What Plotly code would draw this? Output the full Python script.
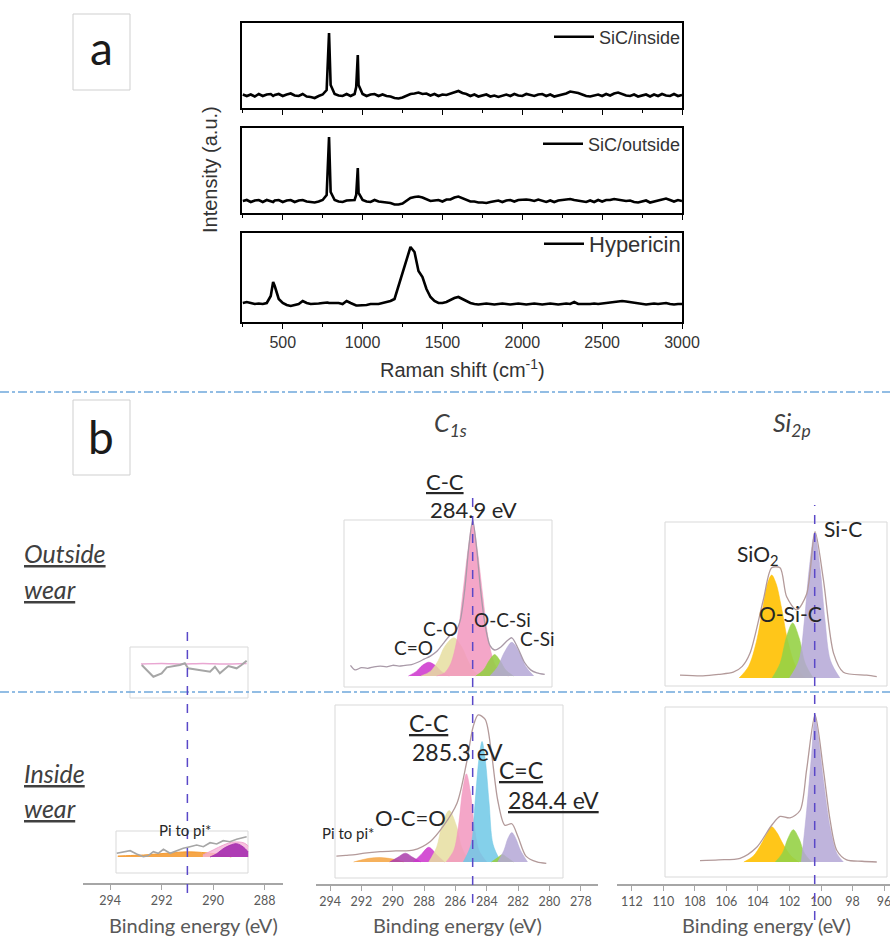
import plotly.graph_objects as go

W, H = 890, 941
def fx(px): return px / W
def fy(py): return 1 - py / H

# ---------------- (a) Raman data ----------------
raman_shift = [250,275,300,325,350,375,400,425,440,450,
               475,500,525,550,575,600,625,650,675,700,
               725,750,775,780,790,800,825,850,875,900,
               925,950,960,970,975,1000,1025,1050,1075,1100,
               1125,1150,1175,1200,1225,1250,1275,1300,1325,1350,
               1375,1400,1425,1450,1475,1500,1525,1550,1575,1600,
               1625,1650,1675,1700,1725,1750,1775,1800,1825,1850,
               1875,1900,1925,1950,1975,2000,2025,2050,2075,2100,
               2125,2150,2175,2200,2225,2250,2275,2300,2325,2350,
               2375,2400,2425,2450,2475,2500,2525,2550,2575,2600,
               2625,2650,2675,2700,2725,2750,2775,2800,2825,2850,
               2875,2900,2925,2950,2975,3000]
sic_inside = [0.5,-1,0.5,-1.5,1,-1,0.5,1,-1,0,
              1,-1,0.5,1.5,-0.5,-1,1,-1.5,-2,-3,
              -1,0.5,5,22,62,10,1,-0.5,-1,1,
              -1,1,8,40,10,1,-1,0.5,1,-1,
              0.5,-1,-1.5,-3,-3.5,-2.5,-1,1,1.5,2.5,
              1,1.5,-0.5,1,-1,0.5,0,1.5,2.5,4,
              2,1,-1,0.5,-1.5,-0.5,0.5,-1.5,-0.5,-2,
              -1,0.5,-1,1,-0.5,-1,1,0,-1,0.5,
              1,-1,0.5,-1.5,-0.5,0.5,1.5,3.5,3,2,
              0.5,-1,-1.5,-0.5,0.5,-1,1,-0.5,1.5,2.5,
              1,-0.5,-1,0.5,-1.5,-0.5,0.5,-1.5,0.5,-1,
              1,-0.5,-1,1,-1,0]
sic_outside = [0,1,-1,0.5,1,-1,1,-0.5,-1,0.5,
               1,-1,0.5,1,-1,0.5,1,-0.5,-1,-1.5,
               -0.5,1,6,24,64,9,1,-0.5,-1,0.5,
               1,1,6,33,8,1,-0.5,-1,1,-0.5,
               -1,-1.5,-2,-3.5,-3.5,-2.5,0,3,4,4.5,
               3.5,1.5,0,0.5,1,-0.5,1.5,1.5,3.5,4.5,
               3,1,-0.5,-0.5,-1.5,-1.5,-2,-1,-0.5,0.5,
               -1,0.5,1,-0.5,1,1.5,1.5,1,0,1.5,
               0,-1,0.5,-1,0.5,1,1,2,1,0.5,
               -0.5,-1,0.5,-1,1,-0.5,1,1,2,1.5,
               1,0,0.5,-1,-1.5,-0.5,0.5,-1.5,-0.5,0.5,
               1,2.5,1,-0.5,1,0]
hypericin = [1,2,1,0,0.5,0,1,8,22,18,
             5,1,-1,-2,-1,0,3,1,0,0,
             0.5,1,1.5,1.5,1,1,0.5,1,0,3,
             1,-1,-1.5,-1.5,-1.5,-1,-1,0,0,0,
             1,2,3,5,18,29,42,57,52,33,
             27,15,7,3,1,1,2,4,6,7,
             5,3,1,0,-0.5,0,0.5,0,-0.5,0,
             0.5,0,-0.5,0,0.5,0,-0.5,0,0.5,0,
             -0.5,0,0.5,0,-0.5,0,0.5,0,2,0,
             0,-0.5,0,0.5,0,0.5,1,1.5,2,2.5,
             3,2.5,2,1,0.5,0,-0.5,0,0.5,0,
             0.5,1,0,-0.5,0,0]
raman_names = ["SiC/inside", "SiC/outside", "Hypericin"]
raman_ticks = [500, 1000, 1500, 2000, 2500, 3000]

# ---------------- (b) XPS data (binding energy eV, intensity) ----------------
# left column: Pi to pi* region
pi_out_raw_x = [292.77,292.52,292.32,292.0,291.8,291.29,291.1,290.97,290.51,290.12,289.93,289.74,289.41,289.09,288.9,288.7]
pi_out_raw_y = [-1,-7.7,-12.7,-9.3,-3.3,-1,0.7,-4.3,-6,-7.7,-2.7,-9.3,-2,-4.3,-1,3.3]
pi_out_fit_x = [292.8,292.0,291.2,290.4,289.6,288.7]
pi_out_fit_y = [0,0.5,0,0.5,0,0.5]

pi_in_raw_x = [293.74,293.48,293.22,292.97,292.71,292.52,292.32,292.13,291.93,291.67,291.41,291.16,290.9,290.64,290.38,290.12,289.86,289.61,289.35,289.09,288.7]
pi_in_raw_y = [3.7,5.3,6.3,3,0.3,1.3,5.3,3.7,7.7,3.7,6.3,8.7,10.3,12,10.3,14.3,13,16.3,15.3,17.7,20.3]
pi_in_orange_x = [293.7,293.2,292.7,292.2,291.7,291.2,290.7,290.2,289.7,289.3]
pi_in_orange_y = [1,1.5,2,3,4,5,5,4,2.5,0]
pi_in_pink_x = [290.4,290.0,289.6,289.2,288.8,288.64]
pi_in_pink_y = [2,7,12,15,14,11]
pi_in_purple_x = [290.12,289.86,289.61,289.35,289.09,288.83,288.64]
pi_in_purple_y = [0,3.3,8.3,11.7,13.3,10,5]

# C1s outside wear
c1s_out_env_x = [292.7,292.4,292.0,291.6,291.2,290.8,290.4,290.0,289.6,289.2,288.8,288.4,288.0,287.6,287.2,286.8,286.4,286.0,285.7,285.4,285.15,284.9,284.65,284.4,284.1,283.8,283.5,283.1,282.7,282.4,282.0,281.6,281.2,280.8,280.3]
c1s_out_env_y = [7,4,5.5,5,6,6.5,6,7,6.5,7,7.5,9,11,13,16,21,26,29,36,57,84,102,84,57,33,20,17,19,23,25,18,9,4,2,1]
c1s_out_comp = {
    "C=O":    ([289.0,288.5,288.1,287.7,287.3,286.9,286.4], [0,3,7,9,7,3,0]),
    "C-O":    ([288.2,287.6,287.1,286.7,286.1,285.6,285.2,284.8,284.3], [0,3,10,19,25,19,10,3,0]),
    "C-C":    ([287.2,286.7,286.3,285.9,285.55,285.2,284.9,284.6,284.25,283.9,283.5,283.1,282.6], [0,2,8,24,52,82,100,82,52,24,8,2,0]),
    "O-C-Si": ([284.7,284.2,283.85,283.5,283.15,282.8,282.3], [0,4,10,14,10,4,0]),
    "C-Si":   ([283.8,283.3,282.9,282.4,281.9,281.5,281.0], [0,6,15,22,15,6,0]),
}
# C1s inside wear
c1s_in_env_x = [293.6,293.0,292.4,291.8,290.8,289.8,288.7,287.6,286.8,285.9,285.3,284.87,284.55,284.1,283.7,283.3,282.85,282.4,282.0,281.5,280.8,280.2]
c1s_in_env_y = [4,4.5,5,6,7,7.5,8,14,24,40,67,92,100,97,74,42,25,26,17,4,0,-1]
c1s_in_comp = {
    "Pi to pi*": ([292.5,291.5,290.8,290.0,289.3], [0,2.5,3,2,0]),
    "Pi2":       ([290.2,289.7,289.2,288.7,288.2], [0,3,6,3,0]),
    "O-C=O":     ([288.7,288.2,287.7,287.2,286.7], [0,5,10,5,0]),
    "C-O":       ([287.7,287.2,286.85,286.4,285.95,285.6,285.1], [0,10,25,35,25,10,0]),
    "C-C":       ([286.6,286.1,285.8,285.55,285.3,285.05,284.8,284.5,284.0], [0,8,25,48,60,48,25,8,0]),
    "C=C":       ([285.5,285.0,284.75,284.5,284.3,284.1,283.85,283.6,283.1], [0,12,40,70,82,70,40,12,0]),
    "O-C-Si":    ([283.7,283.3,283.0,282.7,282.3], [0,3,5,3,0]),
    "C-Si":      ([283.3,282.9,282.65,282.4,282.15,281.85,281.4], [0,8,16,20,16,8,0]),
}
# Si2p outside wear
si_out_env_x = [108.95,107.5,106.5,105.57,105.0,104.51,103.66,103.13,102.6,102.18,101.54,100.91,100.38,99.85,99.2,98.58,97.1,96.46]
si_out_env_y = [2,1.5,2.5,4,8,17,54,76,76,56,47,58,101,68,17,4,2,1]
si_out_comp = {
    "SiO2":  ([105.2,104.6,104.1,103.7,103.4,103.13,102.85,102.5,102.1,101.6,101.0], [0,8,25,48,65,71,65,48,25,8,0]),
    "O-Si-C": ([103.1,102.6,102.2,101.8,101.4,101.0,100.5], [0,10,28,38,28,10,0]),
    "Si-C":  ([102.0,101.4,101.05,100.75,100.4,100.05,99.75,99.4,98.8], [0,12,40,75,100,75,40,12,0]),
}
# Si2p inside wear
si_in_env_x = [107.68,106.5,105.14,104.08,103.13,102.6,101.97,101.33,100.91,100.38,99.85,99.43,99.0,98.37,97.4,96.46]
si_in_env_y = [1,1.5,2.5,10,25,31,30,35,63,100,63,29,8,1.4,0.5,0]
si_in_comp = {
    "SiO2":  ([104.9,104.3,103.8,103.4,103.13,102.8,102.4,101.9,101.4], [0,4,12,20,24,20,12,4,0]),
    "O-Si-C": ([102.9,102.45,102.1,101.76,101.4,101.05,100.6], [0,6,16,22,16,6,0]),
    "Si-C":  ([101.25,100.91,100.59,100.38,100.17,99.85,99.43,99.0,98.58], [0,35,74,100,85,56,24,6,0]),
}
ref_lines = [291.0, 284.9, 100.4]
left_ticks = [294, 292, 290, 288]
c1s_ticks = [294, 292, 290, 288, 286, 284, 282, 280, 278]
si_ticks = [112, 110, 108, 106, 104, 102, 100, 98, 96]

comp_colors = {
    "C=O": "rgba(204,51,204,0.85)", "O-C=O": "rgba(204,51,204,0.85)",
    "C-O": "rgba(230,222,160,0.85)", "C-C": "rgba(242,150,190,0.85)",
    "C=C": "rgba(110,200,230,0.85)", "O-C-Si": "rgba(150,205,70,0.9)",
    "C-Si": "rgba(180,167,214,0.85)", "Si-C": "rgba(180,167,214,0.85)",
    "SiO2": "rgba(255,192,0,0.9)", "O-Si-C": "rgba(150,210,70,0.9)",
    "Pi to pi*": "rgba(244,163,64,0.85)", "Pi2": "rgba(170,60,170,0.85)",
}
ENV = "#b39a9a"
RAW = "#a6a6a6"

fig = go.Figure()

# ---------------- Raman traces ----------------
raman_sets = [sic_inside, sic_outside, hypericin]
raman_axes = [("x", "y", "legend"), ("x2", "y2", "legend2"), ("x3", "y3", "legend3")]
for name, vals, (xa, ya, lg) in zip(raman_names, raman_sets, raman_axes):
    fig.add_trace(go.Scatter(x=raman_shift, y=vals, mode="lines", name=name,
                             line=dict(color="black", width=2.6), xaxis=xa, yaxis=ya,
                             legend=lg, showlegend=True))

def comp_traces(comps, xa, ya):
    for k, (cx, cy) in comps.items():
        col = comp_colors[k]
        fig.add_trace(go.Scatter(x=cx, y=cy, mode="lines", fill="tozeroy", fillcolor=col,
                                 line=dict(color=col, width=0.6, shape="spline", smoothing=0.9),
                                 xaxis=xa, yaxis=ya, showlegend=False, hoverinfo="skip"))

def line_trace(x, y, xa, ya, color, width=1.2, shape="spline"):
    fig.add_trace(go.Scatter(x=x, y=y, mode="lines",
                             line=dict(color=color, width=width, shape=shape, smoothing=0.8),
                             xaxis=xa, yaxis=ya, showlegend=False, hoverinfo="skip"))

# left column
line_trace(pi_out_fit_x, pi_out_fit_y, "x5", "y5", "#e9a6d2", 1.5)
line_trace(pi_out_raw_x, pi_out_raw_y, "x5", "y5", RAW, 2, "linear")
fig.add_trace(go.Scatter(x=pi_in_orange_x, y=pi_in_orange_y, mode="lines", fill="tozeroy",
                         fillcolor="rgba(244,150,40,0.85)", line=dict(color="rgba(244,150,40,0.9)", width=1, shape="spline"),
                         xaxis="x4", yaxis="y4", showlegend=False, hoverinfo="skip"))
fig.add_trace(go.Scatter(x=pi_in_pink_x, y=pi_in_pink_y, mode="lines", fill="tozeroy",
                         fillcolor="rgba(245,180,215,0.8)", line=dict(color="rgba(240,160,205,0.9)", width=1, shape="spline"),
                         xaxis="x4", yaxis="y4", showlegend=False, hoverinfo="skip"))
fig.add_trace(go.Scatter(x=pi_in_purple_x, y=pi_in_purple_y, mode="lines", fill="tozeroy",
                         fillcolor="rgba(165,45,175,0.9)", line=dict(color="rgba(165,45,175,0.9)", width=1, shape="spline"),
                         xaxis="x4", yaxis="y4", showlegend=False, hoverinfo="skip"))
line_trace(pi_in_raw_x, pi_in_raw_y, "x4", "y4", RAW, 1.6, "linear")

# C1s
comp_traces(c1s_out_comp, "x7", "y7")
line_trace(c1s_out_env_x, c1s_out_env_y, "x7", "y7", "#a99aa8", 1.3)
comp_traces(c1s_in_comp, "x6", "y6")
line_trace(c1s_in_env_x, c1s_in_env_y, "x6", "y6", ENV, 1.3)
# Si2p
comp_traces(si_out_comp, "x9", "y9")
line_trace(si_out_env_x, si_out_env_y, "x9", "y9", ENV, 1.3)
comp_traces(si_in_comp, "x8", "y8")
line_trace(si_in_env_x, si_in_env_y, "x8", "y8", ENV, 1.3)

# ---------------- axes ----------------
RFONT = "Liberation Sans"
XFONT = "Lato"
raman_y = [([fy(108), fy(23)], [-13, 72]), ([fy(213), fy(128)], [-12, 73]), ([fy(322), fy(233)], [-18, 71])]
lay = {}
for i, (dom, rng) in enumerate(raman_y):
    sx = "" if i == 0 else str(i + 1)
    lay["xaxis" + sx] = dict(domain=[fx(242), fx(682)], range=[245, 3000], anchor="y" + sx,
                             showline=True, mirror=True, linecolor="black", linewidth=1.5,
                             ticks="outside", ticklen=5, tickwidth=1.3, tickcolor="black",
                             tickvals=raman_ticks, showticklabels=(i == 2),
                             minor=dict(dtick=250, tick0=0, ticks="outside", ticklen=3, tickcolor="black"),
                             tickfont=dict(family=RFONT, size=16, color="#333"), automargin=False,
                             showgrid=False, zeroline=False, fixedrange=True)
    lay["yaxis" + sx] = dict(domain=dom, range=rng, anchor="x" + sx, showline=True, mirror=True,
                             linecolor="black", linewidth=1.5, ticks="", showticklabels=False,
                             automargin=False, showgrid=False, zeroline=False)

def xps_axis(dom, rng, ticks, pos):
    return dict(domain=dom, range=rng, anchor="free", position=pos, showline=True,
                linecolor="#a6a6a6", linewidth=1.6, ticks="outside", ticklen=5, tickwidth=1.3,
                tickcolor="#a6a6a6", tickvals=ticks, ticktext=[str(t) for t in ticks],
                tickfont=dict(family=XFONT, size=12.5, color="#595959"), automargin=False,
                ticklabeloverflow="allow", showgrid=False, zeroline=False)

def hidden(dom, rng, anchor):
    return dict(domain=dom, range=rng, anchor=anchor, visible=False, automargin=False,
                showgrid=False, zeroline=False)

left_dom, left_rng = [fx(83), fx(283)], [295.05, 287.29]
c1s_dom, c1s_rng = [fx(316), fx(598)], [294.9, 276.9]
si_dom, si_rng = [fx(617), 1.0], [112.95, 95.62]
lay["xaxis4"] = xps_axis(left_dom, left_rng, left_ticks, fy(884))
lay["yaxis4"] = hidden([fy(873), fy(831)], [-16, 26], "x4")
lay["xaxis5"] = hidden(left_dom, left_rng, "y5")
lay["yaxis5"] = hidden([fy(698), fy(647)], [-34, 17], "x5")
lay["xaxis6"] = xps_axis(c1s_dom, c1s_rng, c1s_ticks, fy(885))
lay["yaxis6"] = hidden([fy(878), fy(705)], [-10.9, 106.8], "x6")
lay["xaxis7"] = hidden(c1s_dom, c1s_rng, "y7")
lay["yaxis7"] = hidden([fy(687), fy(520)], [-7.2, 102], "x7")
lay["xaxis8"] = xps_axis(si_dom, si_rng, si_ticks, fy(885))
lay["yaxis8"] = hidden([fy(877), fy(707)], [-10.2, 105.4], "x8")
lay["xaxis9"] = hidden(si_dom, si_rng, "y9")
lay["yaxis9"] = hidden([fy(686), fy(522)], [-5.5, 107.6], "x9")

# ---------------- shapes ----------------
shapes = []
def rect(x0, y0, x1, y1, color="#d9d9d9"):
    shapes.append(dict(type="rect", xref="paper", yref="paper", x0=fx(x0), x1=fx(x1),
                       y0=fy(y1), y1=fy(y0), line=dict(color=color, width=1),
                       fillcolor="rgba(0,0,0,0)", layer="below"))
rect(73, 14, 130, 90, "#cfcfcf")
rect(73, 400, 130, 475, "#cfcfcf")
rect(130, 647, 248, 698)
rect(116, 831, 248, 873)
rect(344, 520, 552, 687)
rect(335, 705, 563, 878)
rect(665, 522, 887, 686)
rect(665, 707, 887, 877)
for py in (392, 692):
    shapes.append(dict(type="line", xref="paper", yref="paper", x0=0, x1=1, y0=fy(py), y1=fy(py),
                       line=dict(color="#6fa8dc", width=1.3, dash="dashdot")))
for xa, e, (ytop, ybot) in zip(["x4", "x6", "x8"], ref_lines, [(630, 893), (490, 903), (505, 920)]):
    shapes.append(dict(type="line", xref=xa, yref="paper", x0=e, x1=e, y0=fy(ybot), y1=fy(ytop),
                       line=dict(color="#5a48c8", width=1.5, dash="dash")))

# ---------------- annotations ----------------
anns = []
def ann(text, px, py, size, family=XFONT, color="#262626", xanchor="center", angle=0):
    anns.append(dict(text=text, x=fx(px), y=fy(py), xref="paper", yref="paper", showarrow=False,
                     xanchor=xanchor, yanchor="middle", textangle=angle,
                     font=dict(family=family, size=size, color=color)))

ann("Intensity (a.u.)", 210, 170, 20, RFONT, "#333", angle=-90)
ann("Raman shift (cm<sup>-1</sup>)", 462, 368, 20, RFONT, "#333")
ann("a", 101, 48, 46, XFONT, "#1a1a1a")
ann("b", 101, 436, 46, XFONT, "#1a1a1a")
ann("<i>C<sub>1s</sub></i>", 450, 424, 25, XFONT, "#404040")
ann("<i>Si<sub>2p</sub></i>", 792, 424, 25, XFONT, "#404040")
ann("<i><u>Outside</u></i>", 22, 553, 25, XFONT, "#404040", "left")
ann("<i><u>wear</u></i>", 22, 589, 25, XFONT, "#404040", "left")
ann("<i><u>Inside</u></i>", 22, 773, 25, XFONT, "#404040", "left")
ann("<i><u>wear</u></i>", 22, 808, 25, XFONT, "#404040", "left")
ann("<u>C-C</u>", 445, 481, 22)
ann("284.9 eV", 473, 509, 22)
ann("C-O", 440, 628, 19)
ann("C=O", 413, 647, 19)
ann("O-C-Si", 503, 619, 19)
ann("C-Si", 537, 638, 19)
ann("Si-C", 843, 528, 21)
ann("SiO<sub>2</sub>", 757, 555, 21)
ann("O-Si-C", 790, 613, 21)
ann("<u>C-C</u>", 428, 723, 23)
ann("285.3 eV", 457, 752, 23)
ann("<u>C=C</u>", 521, 770, 23)
ann("<u>284.4 eV</u>", 553, 800, 23)
ann("O-C=O", 410, 817, 22)
ann("Pi to pi*", 320, 833, 15, xanchor="left")
ann("Pi to pi*", 185, 830, 15)
for cx in (193, 458, 766):
    ann("Binding energy (eV)", cx, 925, 20, XFONT, "#595959")

legend_pos = [("legend", 37, 18), ("legend2", 144, 18), ("legend3", 244, 22)]
for key, py, size in legend_pos:
    lay[key] = dict(x=fx(686), y=fy(py), xanchor="right", yanchor="middle", bgcolor="rgba(0,0,0,0)",
                    font=dict(family=RFONT, size=size, color="#333"), itemwidth=40,
                    borderwidth=0, tracegroupgap=0)

fig.update_layout(width=W, height=H, margin=dict(l=0, r=0, t=0, b=0, autoexpand=False),
                  paper_bgcolor="white", plot_bgcolor="rgba(0,0,0,0)",
                  shapes=shapes, annotations=anns, **lay)
fig.write_html("out.html", config={"displayModeBar": False},
               post_script="document.body.style.margin='0';document.body.style.overflow='hidden';")
